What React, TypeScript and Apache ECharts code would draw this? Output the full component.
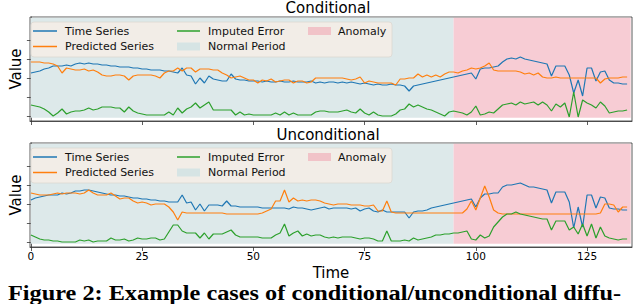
import React, { useEffect, useRef } from "react";
import * as echarts from "echarts";

// ---- data (arbitrary value units; the original y-axis has no tick labels) ----
const xTicks = [0, 25, 50, 75, 100, 125];
const yTicks = [4.3, 23.5, 42.7, 61.9, 81];
const normalPeriod = [0, 95];
const anomalyPeriod = [95, 134.8];
const shadeRange = [3.2, 103.2];

const condTimeSeries = [
  48, 49, 50, 52, 53, 55, 55, 55, 56, 55,
  57, 58, 57, 58, 57, 57, 56, 56, 55, 55,
  54, 54, 54, 53, 53, 52, 52, 51, 51, 51,
  50, 50, 49, 48, 53, 46, 45, 37, 43, 38,
  45, 42, 41, 40, 40, 47, 42, 41, 41, 40,
  40, 40, 39, 40, 39, 39, 40, 39, 39, 40,
  39, 39, 39, 40, 38, 39, 38, 39, 39, 38,
  39, 38, 39, 38, 37, 38, 37, 36, 37, 36,
  36, 37, 36, 36, 35, 30, 35, 36, 37, 38,
  39, 40, 41, 42, 43, 44, 45, 46, 47, 48,
  42, 52, 53, 53, 54, 55, 59, 62, 63, 62,
  64, 62, 61, 60, 59, 58, 57, 45, 55, 55,
  55, 46, 28, 41, 25, 53, 53, 40, 49, 50,
  41, 38, 38, 37, 37,
];
const condPredicted = [
  59, 59, 59, 58, 58, 57, 55, 48, 53, 52,
  51, 51, 52, 50, 51, 49, 46, 45, 45, 46,
  46, 45, 41, 45, 46, 46, 46, 46, 45, 43,
  48, 50, 50, 53, 50, 53, 53, 49, 52, 52,
  52, 51, 51, 48, 46, 43, 44, 45, 43, 41,
  41, 38, 41, 40, 42, 39, 40, 41, 41, 38,
  40, 40, 38, 39, 43, 43, 43, 43, 43, 43,
  43, 42, 41, 42, 44, 38, 40, 39, 38, 38,
  38, 38, 36, 42, 42, 43, 43, 47, 44, 46,
  44, 46, 44, 47, 49, 49, 48, 50, 51, 53,
  52, 53, 55, 58, 51, 50, 50, 50, 50, 50,
  49, 47, 48, 46, 48, 44, 43, 43, 44, 43,
  43, 43, 43, 43, 43, 43, 43, 43, 38, 42,
  43, 43, 43, 44, 44,
];
const condError = [
  16, 15, 14, 12, 9, 5, 8, 12, 7, 9,
  10, 10, 11, 13, 11, 12, 14, 14, 14, 13,
  13, 9, 14, 10, 8, 7, 6, 6, 6, 6,
  6, 9, 6, 13, 8, 12, 14, 18, 13, 16,
  19, 11, 11, 11, 11, 11, 6, 9, 6, 7,
  6, 6, 6, 6, 6, 8, 6, 9, 6, 8,
  6, 6, 6, 6, 9, 10, 10, 9, 9, 9,
  10, 11, 9, 8, 12, 8, 6, 9, 6, 5,
  5, 5, 7, 11, 12, 17, 14, 16, 14, 12,
  11, 9, 7, 5, 9, 10, 9, 8, 6, 9,
  15, 6, 7, 9, 8, 12, 16, 17, 18, 16,
  19, 17, 18, 19, 16, 19, 16, 10, 17, 14,
  18, 4, 29, 4, 21, 18, 16, 13, 19, 15,
  8, 9, 10, 10, 11,
];

const uncondTimeSeries = [
  47, 49, 50, 51, 52, 52, 52, 54, 53, 54,
  56, 56, 57, 57, 56, 55, 54, 53, 52, 52,
  51, 51, 50, 49, 49, 48, 48, 47, 47, 46,
  46, 45, 45, 45, 52, 44, 45, 37, 43, 36,
  42, 42, 42, 41, 46, 41, 41, 40, 40, 40,
  40, 40, 39, 39, 39, 39, 39, 39, 38, 40,
  39, 39, 38, 37, 38, 39, 40, 38, 39, 39,
  39, 39, 38, 39, 36, 38, 39, 36, 35, 37,
  35, 35, 35, 35, 35, 29, 35, 36, 36, 37,
  39, 40, 41, 42, 43, 44, 45, 46, 47, 48,
  40, 49, 53, 53, 54, 54, 60, 62, 62, 63,
  64, 62, 60, 60, 59, 58, 57, 44, 55, 55,
  55, 45, 19, 40, 20, 52, 52, 39, 50, 49,
  39, 38, 38, 37, 37,
];
const uncondPredicted = [
  54, 53, 52, 52, 52, 53, 54, 53, 54, 54,
  54, 53, 54, 57, 54, 52, 52, 52, 54, 51,
  48, 49, 49, 46, 44, 45, 44, 42, 43, 43,
  43, 40, 35, 27, 35, 34, 34, 34, 34, 34,
  34, 34, 34, 34, 33, 33, 33, 33, 33, 33,
  33, 33, 34, 36, 38, 46, 46, 57, 45, 49,
  46, 47, 46, 47, 47, 46, 44, 43, 42, 43,
  43, 43, 42, 42, 42, 41, 41, 42, 36, 36,
  46, 35, 34, 34, 34, 34, 34, 34, 34, 34,
  34, 34, 34, 34, 34, 34, 34, 34, 38, 46,
  37, 49, 61, 50, 37, 34, 33, 33, 33, 33,
  33, 33, 33, 33, 33, 33, 33, 33, 33, 33,
  33, 33, 33, 33, 33, 33, 33, 33, 34, 43,
  43, 42, 35, 40, 40,
];
const uncondError = [
  12, 10, 8, 7, 7, 6, 6, 5, 5, 5,
  5, 7, 6, 7, 5, 6, 6, 6, 9, 7,
  7, 8, 6, 7, 9, 8, 8, 9, 9, 7,
  8, 15, 22, 22, 16, 14, 14, 14, 9, 14,
  8, 13, 13, 13, 15, 17, 12, 10, 10, 10,
  10, 10, 9, 9, 9, 12, 14, 23, 11, 14,
  16, 11, 13, 11, 12, 12, 10, 9, 10, 9,
  10, 10, 10, 9, 8, 9, 9, 8, 6, 6,
  16, 6, 6, 6, 7, 6, 9, 7, 8, 9,
  10, 12, 12, 13, 13, 14, 14, 15, 16, 8,
  7, 12, 9, 11, 20, 25, 30, 33, 33, 35,
  33, 32, 31, 30, 29, 28, 28, 17, 26, 26,
  26, 17, 20, 13, 23, 11, 23, 9, 20, 11,
  9, 8, 7, 8, 8,
];

const titles = ["Conditional", "Unconditional"];
const seriesNames = ["Time Series", "Predicted Series", "Imputed Error"];
const colors = ["#1f77b4", "#ff7f0e", "#2ca02c"];
const caption = "Figure 2: Example cases of conditional/unconditional diffu-";

const FONT = "DejaVu Sans";
const GRID_TOPS = [17, 143];
const GRID_H = 104;
const GRID_LEFT = 23;
const GRID_W = 609;

function pairs(vals: number[]) {
  return vals.map((v, i) => [i, v]);
}

function legendGraphics(dy: number) {
  const txt = (text: string, x: number, y: number) => ({
    type: "text",
    x,
    y,
    z: 101,
    style: {
      text,
      fontSize: 11,
      fontFamily: FONT,
      fill: "#111",
      textAlign: "left",
      textVerticalAlign: "middle",
      align: "left",
      verticalAlign: "middle",
    },
  });
  const r1 = 31 + dy;
  const r2 = 46.5 + dy;
  return [
    {
      type: "rect",
      z: 100,
      shape: { x: 31, y: 22 + dy, width: 361, height: 35, r: 3 },
      style: { fill: "#f2ede7", stroke: "#dcd8d2", lineWidth: 0.8 },
    },
    { type: "line", z: 101, shape: { x1: 33, y1: r1, x2: 57, y2: r1 }, style: { stroke: colors[0], lineWidth: 1.5 } },
    txt(seriesNames[0], 65, r1),
    { type: "line", z: 101, shape: { x1: 33, y1: r2, x2: 57, y2: r2 }, style: { stroke: colors[1], lineWidth: 1.5 } },
    txt(seriesNames[1], 65, r2),
    { type: "line", z: 101, shape: { x1: 177, y1: r1, x2: 200, y2: r1 }, style: { stroke: colors[2], lineWidth: 1.5 } },
    txt(seriesNames[2], 208, r1),
    { type: "rect", z: 101, shape: { x: 177, y: r2 - 4, width: 23, height: 8 }, style: { fill: "#d6e4e4" } },
    txt("Normal Period", 208, r2),
    { type: "rect", z: 101, shape: { x: 308, y: r1 - 4, width: 23, height: 8 }, style: { fill: "#f1c3c8" } },
    txt("Anomaly", 338, r1),
  ];
}

export default function App() {
  const ref = useRef<HTMLDivElement>(null);
  useEffect(() => {
    if (!ref.current) return;
    const chart = echarts.init(ref.current, null, { renderer: "svg" });

    const capFont = 'bold 21px "Liberation Serif"';
    const ctx = document.createElement("canvas").getContext("2d");
    let capScale = 1;
    if (ctx) {
      ctx.font = capFont;
      const w = ctx.measureText(caption).width;
      if (w > 0) capScale = 614 / w;
    }

    const plots = [
      [condTimeSeries, condPredicted, condError],
      [uncondTimeSeries, uncondPredicted, uncondError],
    ];

    const grids = GRID_TOPS.map((top) => ({
      left: GRID_LEFT,
      top,
      width: GRID_W,
      height: GRID_H,
      show: true,
      borderColor: "#333",
      borderWidth: 0.8,
      backgroundColor: "#fff",
    }));

    const xAxes = GRID_TOPS.map((_, gi) => ({
      type: "value",
      gridIndex: gi,
      min: -0.2,
      max: 135.1,
      axisLine: { show: true, lineStyle: { color: "#333", width: 0.8 } },
      axisTick: {
        show: true,
        customValues: xTicks,
        length: 4,
        lineStyle: { color: "#333", width: 0.8 },
      },
      axisLabel: {
        show: gi === 1,
        customValues: xTicks,
        fontSize: 10.5,
        fontFamily: FONT,
        color: "#000",
        margin: 3,
      },
      splitLine: { show: false },
      name: gi === 1 ? "Time" : "",
      nameLocation: "middle",
      nameGap: 18,
      nameTextStyle: { fontSize: 15, fontFamily: FONT, color: "#000" },
    }));

    const yAxes = GRID_TOPS.map((_, gi) => ({
      type: "value",
      gridIndex: gi,
      min: 0,
      max: GRID_H,
      axisLine: { show: true, lineStyle: { color: "#333", width: 0.8 } },
      axisTick: {
        show: true,
        customValues: yTicks,
        length: 4,
        lineStyle: { color: "#333", width: 0.8 },
      },
      axisLabel: { show: false },
      splitLine: { show: false },
      name: "Value",
      nameLocation: "middle",
      nameGap: 7,
      nameTextStyle: { fontSize: 15, fontFamily: FONT, color: "#000" },
    }));

    const series: any[] = [];
    plots.forEach((plot, gi) => {
      series.push({
        type: "line",
        name: "shade" + gi,
        xAxisIndex: gi,
        yAxisIndex: gi,
        data: [],
        z: 1,
        silent: true,
        markArea: {
          silent: true,
          data: [
            [
              { xAxis: normalPeriod[0], yAxis: shadeRange[0], itemStyle: { color: "#dde9ea" } },
              { xAxis: normalPeriod[1], yAxis: shadeRange[1] },
            ],
            [
              { xAxis: anomalyPeriod[0], yAxis: shadeRange[0], itemStyle: { color: "#f7ccd4" } },
              { xAxis: anomalyPeriod[1], yAxis: shadeRange[1] },
            ],
          ],
        },
      });
      plot.forEach((vals, si) => {
        series.push({
          type: "line",
          name: seriesNames[si],
          xAxisIndex: gi,
          yAxisIndex: gi,
          data: pairs(vals),
          showSymbol: false,
          symbol: "none",
          z: 3,
          lineStyle: { color: colors[si], width: 1.2 },
          itemStyle: { color: colors[si] },
        });
      });
    });

    const graphics: any[] = [
      ...legendGraphics(0),
      ...legendGraphics(126),
      {
        type: "text",
        x: 328,
        y: 8,
        style: {
          text: titles[0], fontSize: 15, fontFamily: FONT, fill: "#000",
          textAlign: "center", textVerticalAlign: "middle", align: "center", verticalAlign: "middle",
        },
      },
      {
        type: "text",
        x: 328,
        y: 135,
        style: {
          text: titles[1], fontSize: 15, fontFamily: FONT, fill: "#000",
          textAlign: "center", textVerticalAlign: "middle", align: "center", verticalAlign: "middle",
        },
      },
      {
        type: "text",
        x: 8,
        y: 293,
        scaleX: capScale,
        style: {
          text: caption,
          fontSize: 21,
          fontWeight: "bold",
          fontFamily: "Liberation Serif",
          fill: "#000",
          textAlign: "left", textVerticalAlign: "middle", align: "left", verticalAlign: "middle",
        },
      },
    ];

    chart.setOption({
      animation: false,
      backgroundColor: "#fff",
      grid: grids,
      xAxis: xAxes,
      yAxis: yAxes,
      series,
      graphic: graphics,
    });

    return () => chart.dispose();
  }, []);

  return (
    <div
      ref={ref}
      style={{ position: "fixed", left: 0, top: 0, width: 640, height: 304, background: "#fff" }}
    />
  );
}
